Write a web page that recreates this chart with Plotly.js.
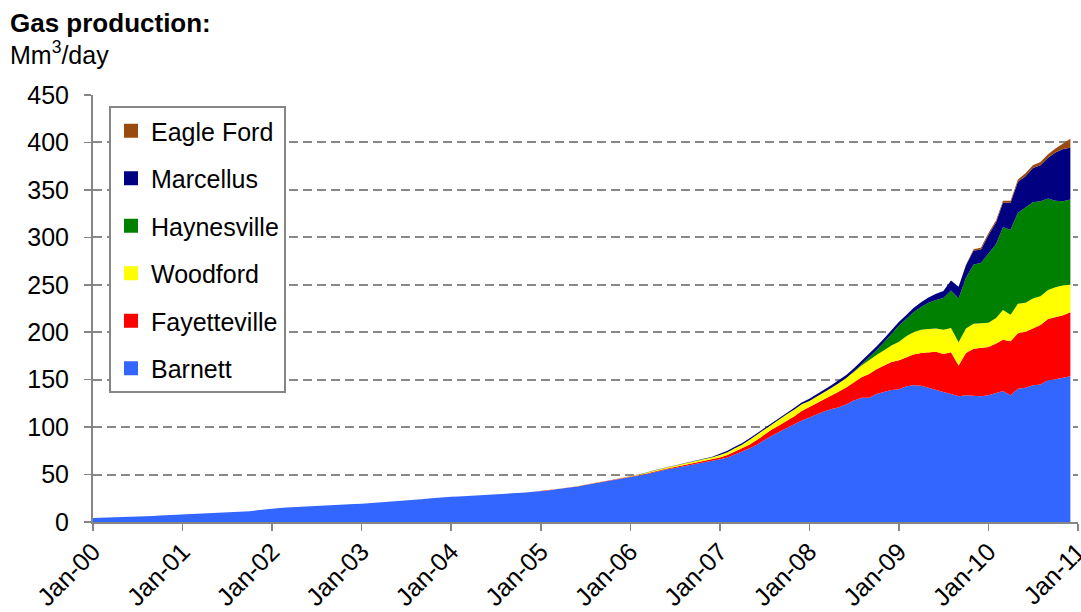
<!DOCTYPE html>
<html>
<head>
<meta charset="utf-8">
<script src="https://cdn.plot.ly/plotly-3.0.1.min.js"></script>
<style>
  html, body { margin: 0; padding: 0; background: #fff; }
  #chart { width: 1081px; height: 612px; }
</style>
</head>
<body>
<div id="chart"></div>
<script>
// Monthly shale gas production, Mm3/day, Jan 2000 - Dec 2010
const firstYear = 2000;
const monthCount = 132;

const barnett = [
  4.2, 4.4, 4.6, 4.8, 5.0, 5.3, 5.6, 6.0, 6.4, 6.8, 7.2, 7.5,
  7.8, 8.0, 8.2, 8.5, 8.8, 9.2, 9.6, 10.0, 10.6, 11.4, 12.4, 13.4,
  14.2, 14.8, 15.2, 15.7, 16.2, 16.6, 17.0, 17.4, 17.8, 18.2, 18.6, 19.0,
  19.3, 19.8, 20.4, 21.0, 21.6, 22.2, 22.8, 23.4, 24.0, 24.8, 25.6, 26.2,
  26.7, 27.0, 27.4, 27.8, 28.2, 28.6, 28.9, 29.2, 29.6, 30.2, 31.0, 31.8,
  32.4, 33.2, 34.4, 35.4, 36.2, 37.4, 39.0, 40.4, 41.6, 42.6, 44.0, 45.8,
  47.5, 48.5, 50.0, 52.0, 54.0, 55.5, 57.0, 58.5, 60.0, 61.5, 62.5, 64.0,
  66, 68, 71, 74, 77.5, 81.5, 86.5, 91, 95, 99, 103, 107,
  110, 113.5, 116.5, 119, 121, 124, 128, 131, 131, 135, 137, 139,
  140, 143, 144, 143.5, 141.5, 139, 137, 135, 132.5, 133.5, 133, 132.5,
  133.5, 135.5, 138, 133.5, 140.5, 141.5, 144, 145, 149.5, 150.5, 152, 153.5
];

// starts Jan 2005
const fayetteville = [
  0.1, 0.1, 0.1, 0.1, 0.2, 0.2, 0.2, 0.3, 0.3, 0.3, 0.4, 0.4,
  0.5, 0.5, 0.6, 0.7, 0.8, 0.9, 1.0, 1.1, 1.3, 1.5, 1.7, 2.0,
  2, 2.5, 3, 3.5, 4, 5, 5.5, 6.5, 7, 7.5, 8.5, 10,
  11, 11.5, 12.5, 14, 16.5, 18, 19, 21.5, 25, 26, 28, 29.5,
  30.5, 31, 32.5, 34.5, 37.5, 40.5, 40, 44, 32.5, 44.5, 49.5, 51,
  51, 52.5, 54, 57, 58.5, 59, 60, 62.5, 64.5, 65.5, 66, 67.5
];

// starts Jan 2005
const woodford = [
  0.2, 0.2, 0.2, 0.3, 0.3, 0.3, 0.4, 0.4, 0.5, 0.5, 0.6, 0.6,
  0.7, 0.8, 0.9, 1.0, 1.1, 1.2, 1.3, 1.4, 1.6, 1.8, 2.0, 2.2,
  2.5, 3, 3.5, 4, 5, 5.5, 5.5, 6, 6.5, 7, 7, 7,
  6.5, 7, 7.5, 8.5, 9, 10, 11, 12.5, 15, 15, 16, 17.5,
  19.5, 22, 23.5, 24.5, 24.5, 24.5, 25.5, 25.5, 24.5, 26, 26.5, 26,
  25.5, 27, 31.5, 28, 31, 30.5, 31.5, 30.5, 30.5, 31.5, 31.5, 29
];

// starts Jul 2008
const haynesville = [
  0.5, 1, 2.5, 5, 8.5, 12,
  17, 18.5, 21, 24, 27.5, 30, 33.5, 39.5, 46, 53.5, 62.5, 63.5,
  72.5, 78, 87, 89.5, 96, 100.5, 101.5, 100, 96.5, 91, 88.5, 90
];

// starts Jan 2006
const marcellus = [
  0.2, 0.2, 0.2, 0.3, 0.3, 0.3, 0.3, 0.4, 0.4, 0.5, 0.5, 0.6,
  1.5, 1.5, 1.5, 1.5, 1.5, 1.5, 1.5, 1.5, 1.5, 1.5, 1.8, 2,
  2.5, 2.5, 2.8, 3, 3, 3.2, 3.5, 3.5, 3.5, 4, 4, 4.5,
  4, 4, 4.5, 5, 5.5, 6.5, 7.5, 10.5, 12.5, 13, 14.5, 14,
  20, 23, 26, 28.5, 32.5, 33, 36, 38, 43, 51, 55, 54.5
];

// starts Oct 2009
const eagleFord = [
  0.5, 1.5, 2,
  2, 2, 2, 2, 2.5, 3, 3, 3.5, 3.5, 4, 5.5, 9.5
];

const seriesNames = ['Barnett', 'Fayetteville', 'Woodford', 'Haynesville', 'Marcellus', 'Eagle Ford'];
const seriesColors = ['#3366FF', '#FF0000', '#FFFF00', '#008000', '#000080', '#9B4A0F'];
const seriesStart = ['2000-01', '2005-01', '2005-01', '2008-07', '2006-01', '2009-10'];
const seriesValues = [barnett, fayetteville, woodford, haynesville, marcellus, eagleFord];

// month axis values
const months = [];
for (let i = 0; i < monthCount; i++) {
  const y = firstYear + Math.floor(i / 12);
  const m = (i % 12) + 1;
  months.push(y + '-' + String(m).padStart(2, '0') + '-01');
}

function monthIndex(ym) {
  const [y, m] = ym.split('-').map(Number);
  return (y - firstYear) * 12 + (m - 1);
}

// pad each series with zeros before its first month
function fullSeries(values, start) {
  const out = new Array(monthCount).fill(0);
  const s = monthIndex(start);
  values.forEach((v, k) => { out[s + k] = v; });
  return out;
}

const font = 'Liberation Sans, Arial, sans-serif';
const textSize = 25;

const traces = [];
seriesNames.forEach((name, i) => {
  traces.push({
    type: 'scatter',
    mode: 'lines',
    x: months,
    y: fullSeries(seriesValues[i], seriesStart[i]),
    stackgroup: 'shale',
    line: { width: 0, color: seriesColors[i] },
    fillcolor: seriesColors[i],
    name: name,
    showlegend: false,
    hoverinfo: 'x+y+name'
  });
});

// square legend swatches, top of the stack listed first
for (let i = seriesNames.length - 1; i >= 0; i--) {
  traces.push({
    type: 'scatter',
    mode: 'markers',
    x: [null],
    y: [null],
    name: seriesNames[i],
    legendgroup: 'g' + i,
    marker: { symbol: 'square', size: 14, color: seriesColors[i] },
    showlegend: true
  });
}

const plotLeft = 93, plotRight = 1078, plotTop = 95, plotBottom = 522;
const pw = plotRight - plotLeft, ph = plotBottom - plotTop;

const layout = {
  width: 1081,
  height: 612,
  margin: { l: plotLeft, r: 1081 - plotRight, t: plotTop, b: 612 - plotBottom, pad: 0 },
  paper_bgcolor: '#ffffff',
  plot_bgcolor: '#ffffff',
  font: { family: font, size: textSize, color: '#000000' },
  showlegend: true,
  legend: {
    x: (109 - plotLeft) / pw,
    y: (plotBottom - 106) / ph,
    xanchor: 'left',
    yanchor: 'top',
    bgcolor: '#ffffff',
    bordercolor: '#868686',
    borderwidth: 2,
    font: { family: font, size: textSize, color: '#000000' },
    traceorder: 'grouped',
    tracegroupgap: 12,
    itemwidth: 30
  },
  xaxis: {
    type: 'date',
    // a couple of hours past Jan 2011 so the last year tick is kept
    range: ['2000-01-01', '2011-01-01 02:00'],
    tick0: '2000-01-01',
    dtick: 'M12',
    tickformat: '%b-%y',
    tickangle: -45,
    ticks: 'outside',
    ticklen: 7,
    tickwidth: 1.5,
    tickcolor: '#868686',
    showline: true,
    linecolor: '#868686',
    linewidth: 2,
    showgrid: false,
    zeroline: false,
    ticklabelstandoff: -4,
    ticklabeloverflow: 'allow',
    tickfont: { family: font, size: textSize, color: '#000000' },
    fixedrange: true
  },
  yaxis: {
    range: [0, 450],
    dtick: 50,
    tick0: 0,
    ticks: 'outside',
    ticklen: 7,
    tickwidth: 1.5,
    tickcolor: '#868686',
    showline: true,
    linecolor: '#868686',
    linewidth: 2,
    showgrid: true,
    gridcolor: '#888888',
    gridwidth: 2,
    griddash: '9px,5px',
    zeroline: false,
    ticklabelstandoff: 10,
    tickfont: { family: font, size: textSize, color: '#000000' },
    fixedrange: true
  },
  annotations: [
    {
      xref: 'paper', yref: 'paper',
      x: (8 - plotLeft) / pw, y: (plotBottom - 23) / ph,
      xanchor: 'left', yanchor: 'middle',
      text: '<b>Gas production:</b>',
      showarrow: false,
      font: { family: font, size: 26, color: '#000000' }
    },
    {
      xref: 'paper', yref: 'paper',
      x: (8 - plotLeft) / pw, y: (plotBottom - 53) / ph,
      xanchor: 'left', yanchor: 'middle',
      text: 'Mm<sup>3</sup>/day',
      showarrow: false,
      font: { family: font, size: textSize, color: '#000000' }
    }
  ]
};

Plotly.newPlot('chart', traces, layout, { displayModeBar: false, staticPlot: true });
</script>
</body>
</html>
